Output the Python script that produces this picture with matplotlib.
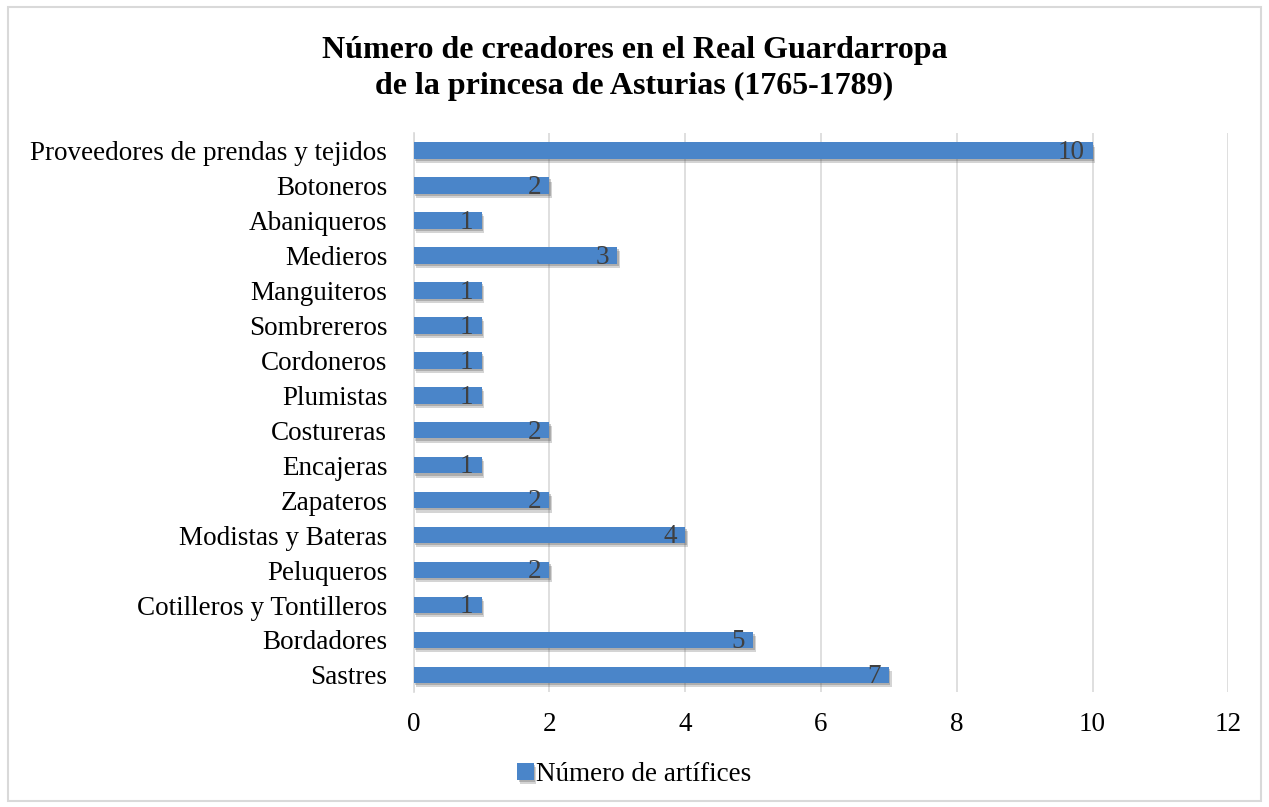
import matplotlib.pyplot as plt
import matplotlib.patheffects as pe
from matplotlib.patches import Rectangle

plt.rcParams['font.family'] = ['Liberation Serif', 'DejaVu Serif']

categorias = [
    "Sastres", "Bordadores", "Cotilleros y Tontilleros", "Peluqueros",
    "Modistas y Bateras", "Zapateros", "Encajeras", "Costureras",
    "Plumistas", "Cordoneros", "Sombrereros", "Manguiteros",
    "Medieros", "Abaniqueros", "Botoneros", "Proveedores de prendas y tejidos",
]
artifices = [7, 5, 1, 2, 4, 2, 1, 2, 1, 1, 1, 1, 3, 1, 2, 10]
xticks = [0, 2, 4, 6, 8, 10, 12]

fig = plt.figure(figsize=(12.69, 8.07), dpi=100)
fig.patches.append(Rectangle((0.006, 0.008), 0.988, 0.983, transform=fig.transFigure,
                             fill=False, edgecolor='#d9d9d9', linewidth=1.5))

ax = fig.add_axes([0.326, 0.142, 0.642, 0.693])
y = range(len(categorias))
bars = ax.barh(y, artifices, height=0.47, color='#4a85c9', zorder=3,
               label='Número de artífices')
for b in bars:
    b.set_path_effects([pe.SimplePatchShadow(offset=(2, -3), shadow_rgbFace='#555555', alpha=0.25),
                        pe.SimplePatchShadow(offset=(1, -1.5), shadow_rgbFace='#555555', alpha=0.3),
                        pe.Normal()])

# valores dentro del extremo de cada barra
for yi, v in zip(y, artifices):
    ax.text(v - 0.12, yi - 0.05, str(v), ha='right', va='center', fontsize=19.5,
            color='#404040', zorder=4)

ax.set_xlim(0, 12)
ax.set_ylim(-0.5, len(categorias) - 0.5)
ax.set_xticks(xticks)
ax.set_yticks(list(y))
ax.set_yticklabels(categorias)
ax.tick_params(axis='both', length=0, labelsize=19.5)
ax.tick_params(axis='y', pad=19)
ax.tick_params(axis='x', pad=14)
ax.grid(axis='x', color='#d9d9d9', linewidth=1.2, zorder=0)
for s in ['top', 'right', 'bottom']:
    ax.spines[s].set_visible(False)
ax.spines['left'].set_color('#d9d9d9')
ax.spines['left'].set_linewidth(1.2)

fig.text(0.5, 0.955, 'Número de creadores en el Real Guardarropa\nde la princesa de Asturias (1765-1789)',
         ha='center', va='top', fontsize=23, fontweight='bold', linespacing=1.3)

fig.legend(loc='center', bbox_to_anchor=(0.5, 0.04), frameon=False, fontsize=19.5,
           handlelength=0.6, handleheight=0.6, handletextpad=0.1)

fig.savefig('out.png', dpi=100)
